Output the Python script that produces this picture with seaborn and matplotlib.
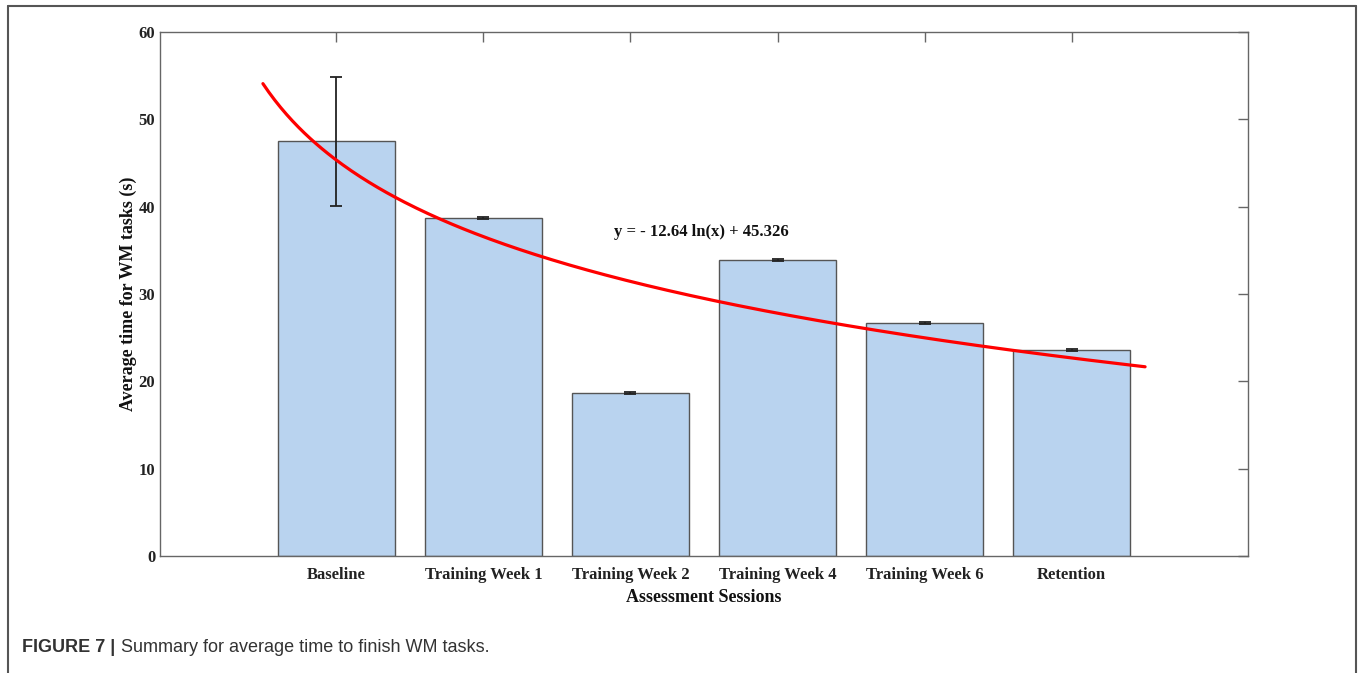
import numpy as np
import pandas as pd
import matplotlib
matplotlib.use("Agg")
import matplotlib.pyplot as plt
from matplotlib.lines import Line2D
import seaborn as sns

# data
sessions = ["Baseline", "Training Week 1", "Training Week 2",
            "Training Week 4", "Training Week 6", "Retention"]
session_no = [1, 2, 3, 4, 5, 6]
avg_time = [47.5, 38.7, 18.7, 33.9, 26.7, 23.6]
err = [7.4, 0.1, 0.1, 0.1, 0.1, 0.1]

# log trend shown in the figure: y = a ln(x) + b
fit_a, fit_b = -12.64, 45.326
fit_x0, fit_x1 = 0.5, 6.5

df = pd.DataFrame({"session": session_no, "time": avg_time})

sns.set_theme(style="white")
plt.rcParams["font.family"] = ["Liberation Serif", "DejaVu Serif"]
plt.rcParams["font.weight"] = "bold"

fig = plt.figure(figsize=(13.6, 6.73), dpi=100)
ax = fig.add_axes([160 / 1360, 1 - 556 / 673, (1248 - 160) / 1360, (556 - 32) / 673])

sns.barplot(data=df, x="session", y="time", native_scale=True, width=0.8,
            color="#b9d3ef", saturation=1, edgecolor="#555555", linewidth=1,
            errorbar=None, ax=ax)
ax.errorbar(session_no, avg_time, yerr=err, fmt="none", ecolor="#222222",
            elinewidth=1.3, capsize=4, capthick=1.3)

xs = np.linspace(fit_x0, fit_x1, 300)
ax.plot(xs, fit_a * np.log(xs) + fit_b, color="red", lw=2.3)

ax.text(3.48, 37.1, "y = - 12.64 ln(x) + 45.326", ha="center", va="center",
        fontsize=12, fontweight="bold", color="#111111")

ax.set_xlim(-0.2, 7.2)
ax.set_ylim(0, 60)
ax.set_xticks(session_no, sessions)
ax.set_yticks(range(0, 61, 10))
ax.tick_params(direction="in", length=7, width=1, top=True, right=True,
               color="#666666", labelsize=12, labelcolor="#222222")
ax.tick_params(axis="x", pad=8)
for lab in ax.get_xticklabels() + ax.get_yticklabels():
    lab.set_fontweight("bold")
for sp in ax.spines.values():
    sp.set_color("#666666")
    sp.set_linewidth(1)

ax.set_xlabel("Assessment Sessions", fontsize=13, fontweight="bold",
              color="#111111", labelpad=4)
ax.set_ylabel("Average time for WM tasks (s)", fontsize=13, fontweight="bold",
              color="#111111", labelpad=1)

# outer frame and caption
W, H = 1360, 673
for (x0, y0, x1, y1) in [(8, 6, 8, 680), (8, 6, 1356, 6), (1356, 6, 1356, 680)]:
    fig.add_artist(Line2D([x0 / W, x1 / W], [1 - y0 / H, 1 - y1 / H],
                          color="#555555", lw=1.5, transform=fig.transFigure))
fig.text(22 / W, 1 - 648 / H, "FIGURE 7 |", fontsize=13, fontweight="bold",
         family=["Liberation Sans"], color="#333333", va="center")
fig.text(121 / W, 1 - 648 / H, "Summary for average time to finish WM tasks.",
         fontsize=13, fontweight="normal", family=["Liberation Sans"],
         color="#333333", va="center")

fig.savefig("out.png", dpi=100)
